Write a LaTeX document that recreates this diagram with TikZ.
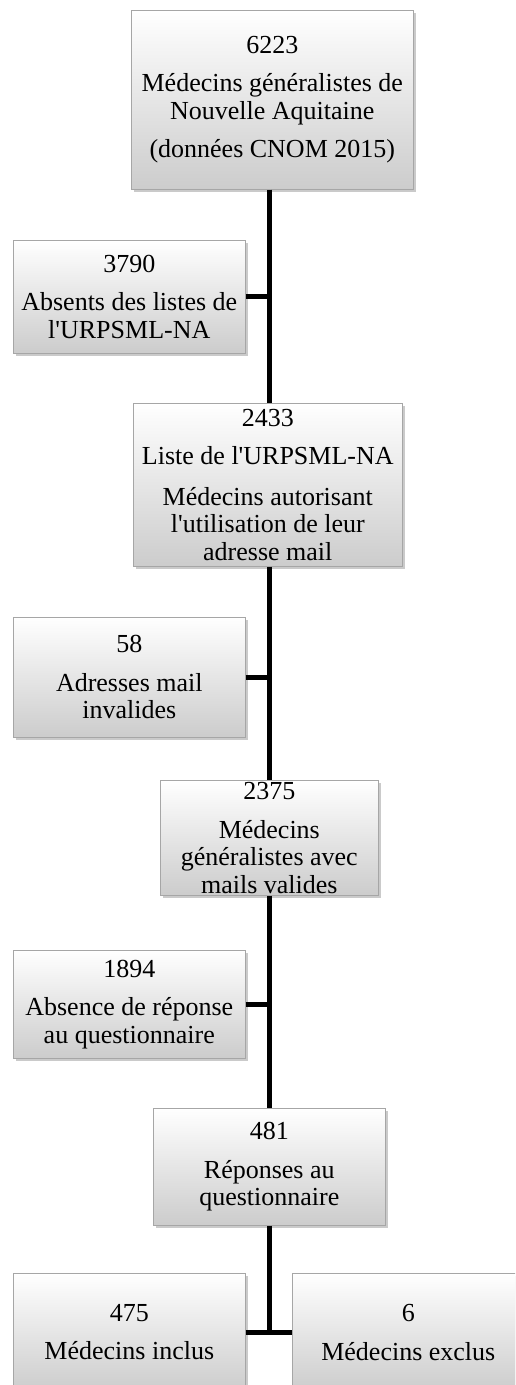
\documentclass[tikz,border=0pt]{standalone}
\usepackage{fontspec}
\setmainfont{Liberation Serif}
\usetikzlibrary{shadows}
\newcommand{\ap}{\textquotesingle}
\begin{document}
\begin{tikzpicture}[x=1pt,y=-1pt,
  boxstyle/.style={draw=black!35, line width=0.6pt, top color=white, bottom color=black!20,
    drop shadow={shadow xshift=2.5pt, shadow yshift=-3pt, opacity=0.35, fill=black!60},
    align=center, inner sep=0pt, font=\fontsize{26}{27.5}\selectfont, anchor=north west},
  link/.style={line width=5pt, black}]
\useasboundingbox (0,0) rectangle (515,1385);
\clip (0,0) rectangle (515,1385);
\node[boxstyle, minimum width=282pt, minimum height=179pt] (b1) at (131,10)
  {6223\\[11pt]Médecins généralistes de\\Nouvelle Aquitaine\\[11pt](données CNOM 2015)};
\node[boxstyle, minimum width=232pt, minimum height=113pt] (b2) at (13,240)
  {3790\\[11pt]Absents des listes de\\l\ap URPSML-NA};
\node[boxstyle, minimum width=269pt, minimum height=163pt] (b3) at (133,403)
  {2433\\[11pt]Liste de l\ap URPSML-NA\\[13pt]Médecins autorisant\\l\ap utilisation de leur\\adresse mail};
\node[boxstyle, minimum width=232pt, minimum height=120pt] (b4) at (13,617)
  {58\\[11pt]Adresses mail\\invalides};
\node[boxstyle, minimum width=218pt, minimum height=115pt] (b5) at (160,780)
  {2375\\[11pt]Médecins\\généralistes avec\\mails valides};
\node[boxstyle, minimum width=232pt, minimum height=108pt] (b6) at (13,950)
  {1894\\[11pt]Absence de réponse\\au questionnaire};
\node[boxstyle, minimum width=232pt, minimum height=117pt] (b7) at (153,1108)
  {481\\[11pt]Réponses au\\questionnaire};
\node[boxstyle, minimum width=232pt, minimum height=118pt] (b8) at (13,1273)
  {475\\[11pt]Médecins inclus};
\node[boxstyle, minimum width=232pt, minimum height=118pt] (b9) at (292,1273)
  {6\\[11pt]Médecins exclus};
\coordinate (sp) at (269,0);
\draw[link] (b1.south -| sp) -- (b3.north -| sp);
\draw[link] (b3.south -| sp) -- (b5.north -| sp);
\draw[link] (b5.south -| sp) -- (b7.north -| sp);
\draw[link] (b7.south -| sp) -- (b8.east -| sp);
\draw[link] (b2.east) -- (b2.east -| sp);
\draw[link] (b4.east) -- (b4.east -| sp);
\draw[link] (b6.east) -- (b6.east -| sp);
\draw[link] (b8.east) -- (b9.west);
\end{tikzpicture}
\end{document}
